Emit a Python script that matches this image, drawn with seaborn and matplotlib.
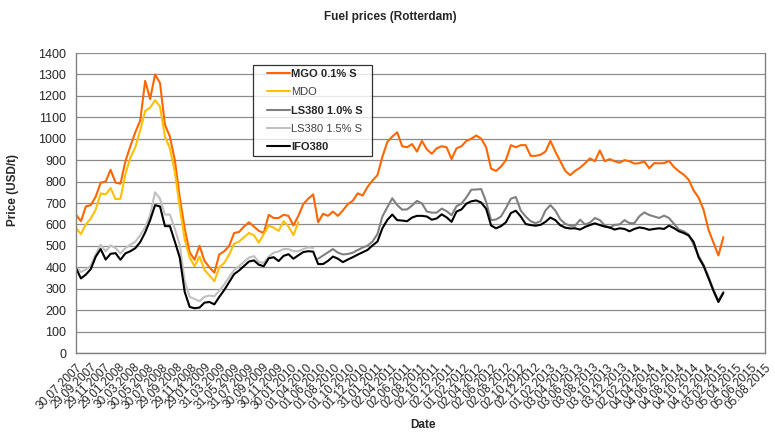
import numpy as np
import pandas as pd
import matplotlib
matplotlib.use("Agg")
import matplotlib.pyplot as plt
from matplotlib.lines import Line2D
from matplotlib.legend_handler import HandlerLine2D
import seaborn as sns

# ---------------- data (USD/t), sampled every 21 days from 30.07.2007 ----------------
start_date = "2007-07-30"
step = "21D"

mgo_01 = [645, 615, 684, 690, 730, 795, 800, 855, 795, 790,
          895, 965, 1030, 1085, 1270, 1185, 1300, 1260, 1065, 1010,
          900, 725, 580, 470, 435, 500, 430, 400, 375, 460,
          475, 500, 560, 565, 590, 610, 590, 570, 560, 645,
          630, 630, 645, 640, 595, 640, 695, 720, 740, 610,
          650, 640, 660, 640, 665, 695, 710, 745, 735, 775,
          805, 830, 915, 985, 1010, 1030, 965, 960, 975, 940,
          990, 950, 930, 955, 965, 960, 905, 955, 965, 990,
          1000, 1015, 1000, 960, 860, 850, 870, 900, 970, 960,
          970, 970, 920, 920, 925, 940, 990, 940, 895, 850,
          830, 850, 865, 885, 908, 895, 945, 895, 905, 895,
          888, 900, 895, 884, 886, 894, 862, 886, 885, 886,
          896, 868, 848, 832, 808, 758, 725, 668, 575, 515,
          455, 540]

mdo = [583, 555, 600, 628, 670, 745, 740, 770, 718, 720,
       835, 912, 960, 1040, 1130, 1145, 1180, 1150, 1010, 955,
       845, 680, 530, 445, 405, 450, 388, 362, 335, 400,
       420, 460, 510, 520, 540, 560, 550, 515, 555, 595,
       585, 570, 615, 590, 550, 610]

ls380_15 = [403, 378, 390, 408, 460, 505, 475, 502, 490, 465,
            489, 505, 519, 550, 587, 645, 750, 720, 646, 646,
            580, 505, 335, 262, 252, 242, 262, 268, 265, 290,
            320, 355, 387, 405, 426, 445, 452, 425, 420, 450,
            468, 474, 485, 485, 475, 475, 485, 493, 490]

ls380_10_start = 49
ls380_10 = [440, 455, 470, 485, 468, 460, 462, 468, 480, 492,
            501, 520, 555, 637, 680, 722, 690, 669, 670, 688,
            710, 698, 660, 655, 655, 674, 662, 643, 685, 697,
            726, 762, 763, 765, 705, 620, 623, 637, 676, 720,
            728, 665, 637, 615, 606, 615, 665, 690, 665, 624,
            603, 594, 594, 622, 600, 608, 630, 620, 595, 584,
            598, 600, 620, 606, 606, 638, 656, 644, 637, 630,
            641, 630, 603, 576, 568, 552, 505, 453, 412, 355,
            295, 244, 285]

ifo380 = [396, 348, 366, 392, 450, 485, 436, 463, 466, 435,
          465, 475, 489, 518, 563, 620, 690, 684, 592, 592,
          520, 445, 285, 215, 209, 212, 235, 238, 227, 262,
          294, 331, 368, 385, 406, 427, 432, 412, 405, 442,
          447, 429, 453, 461, 440, 456, 471, 475, 473, 415,
          415, 430, 450, 440, 424, 436, 447, 459, 470, 481,
          502, 520, 582, 621, 646, 620, 618, 615, 632, 640,
          640, 637, 622, 628, 647, 633, 612, 660, 670, 697,
          708, 712, 702, 673, 595, 582, 592, 610, 653, 664,
          637, 602, 597, 594, 598, 612, 632, 620, 596, 585,
          581, 582, 576, 588, 597, 605, 597, 590, 586, 576,
          582, 579, 568, 579, 586, 582, 575, 579, 582, 579,
          594, 583, 568, 560, 548, 518, 446, 406, 349, 290,
          238, 280]

series_names = ["MGO 0.1% S", "MDO", "LS380 1.0% S", "LS380 1.5% S", "IFO380"]
series_colors = ["#FF6600", "#FFC000", "#808080", "#C0C0C0", "#000000"]
label_bold = [True, False, True, False, True]

# x-axis ticks: every 61 days from 30.07.2007, 49 ticks
tick_start = "2007-07-30"
tick_step_days = 61
n_ticks = 49

# ---------------- build frames ----------------
n = len(ifo380)
dates = pd.date_range(start_date, periods=n, freq=step)
frames = []
frames.append(pd.DataFrame({"Date": dates[:len(mgo_01)], "Price": mgo_01, "Fuel": series_names[0]}))
frames.append(pd.DataFrame({"Date": dates[:len(mdo)], "Price": mdo, "Fuel": series_names[1]}))
frames.append(pd.DataFrame({"Date": dates[ls380_10_start:ls380_10_start + len(ls380_10)],
                            "Price": ls380_10, "Fuel": series_names[2]}))
frames.append(pd.DataFrame({"Date": dates[:len(ls380_15)], "Price": ls380_15, "Fuel": series_names[3]}))
frames.append(pd.DataFrame({"Date": dates[:len(ifo380)], "Price": ifo380, "Fuel": series_names[4]}))
df = pd.concat(frames, ignore_index=True)

# ---------------- plot ----------------
sns.set_style("white")
plt.rcParams["font.family"] = ["Liberation Sans", "DejaVu Sans"]

fig = plt.figure(figsize=(7.75, 4.44), dpi=100)
ax = fig.add_axes([76 / 775, 1 - 353 / 444, 689 / 775, 300 / 444])

for name, col in zip(series_names, series_colors):
    sub = df[df["Fuel"] == name]
    sns.lineplot(data=sub, x="Date", y="Price", color=col, linewidth=1.5,
                 label=name, ax=ax, legend=False)

ax.set_ylim(0, 1400)
ax.set_yticks(np.arange(0, 1401, 100))
ax.yaxis.grid(True, color="#8c8c8c", linewidth=0.9)
ax.xaxis.grid(False)
ax.set_axisbelow(True)

t0 = pd.Timestamp(tick_start)
ticks = [t0 + pd.Timedelta(days=tick_step_days * i) for i in range(n_ticks)]
ax.set_xlim(ticks[0], ticks[-1])
ax.set_xticks(ticks)
ax.set_xticklabels([t.strftime("%d.%m.%Y") for t in ticks], rotation=45,
                   ha="right", rotation_mode="anchor", fontsize=8.5)
ax.tick_params(axis="x", direction="out", length=4, width=0.9, color="#808080", pad=2)
ax.tick_params(axis="y", direction="out", length=4, width=0.9, color="#808080",
               labelsize=9, pad=3)
ax.set_xlabel("")
ax.set_ylabel("")

for side in ["left", "bottom", "right"]:
    ax.spines[side].set_visible(True)
    ax.spines[side].set_color("#808080")
    ax.spines[side].set_linewidth(1.0)
ax.spines["top"].set_visible(False)

handles, labels = ax.get_legend_handles_labels()
leg = ax.legend(handles, labels, loc="upper left",
                bbox_to_anchor=(0.2565, 0.66, 0.1727, 0.30), mode="expand",
                borderaxespad=0, frameon=True, fancybox=False, fontsize=8,
                handlelength=3.0, handletextpad=0.1, labelspacing=0.75,
                borderpad=0.35,
                handler_map={Line2D: HandlerLine2D(xpad=0.95)})
leg.get_frame().set_edgecolor("#000000")
leg.get_frame().set_linewidth(0.9)
for txt, b in zip(leg.get_texts(), label_bold):
    txt.set_fontweight("bold" if b else "normal")
    if not b:
        txt.set_color("#404040")

fig.text(0.503, 0.962, "Fuel prices (Rotterdam)", ha="center", va="center",
         fontsize=8.5, fontweight="bold")
fig.text(0.546, 0.043, "Date", ha="center", va="center", fontsize=8.5, fontweight="bold")
fig.text(0.0168, 0.572, "Price (USD/t)", ha="center", va="center", rotation=90,
         fontsize=8.5, fontweight="bold")

fig.savefig("out.png", dpi=100)
